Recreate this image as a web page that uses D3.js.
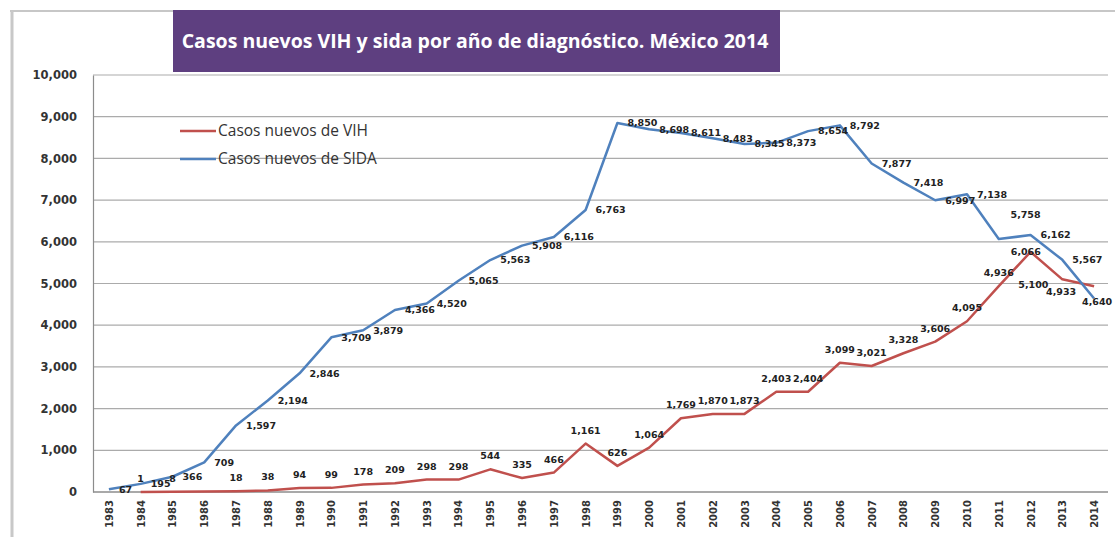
<!DOCTYPE html>
<html>
<head>
<meta charset="utf-8">
<script src="https://cdn.jsdelivr.net/npm/d3@7/dist/d3.min.js"></script>
<style>
  html, body { margin: 0; padding: 0; background: #fff; }
  svg { display: block; }
</style>
</head>
<body>
<svg id="chart" width="1115" height="537"></svg>
<script>
// ---- data ----
const title = "Casos nuevos VIH y sida por año de diagnóstico. México 2014";
const years = ["1983","1984","1985","1986","1987","1988","1989","1990","1991","1992","1993","1994","1995","1996","1997","1998","1999","2000","2001","2002","2003","2004","2005","2006","2007","2008","2009","2010","2011","2012","2013","2014"];
const vih  = [null, 1, 8, 10, 18, 38, 94, 99, 178, 209, 298, 298, 544, 335, 466, 1161, 626, 1064, 1769, 1870, 1873, 2403, 2404, 3099, 3021, 3328, 3606, 4095, 4936, 5758, 5100, 4933];
const sida = [67, 195, 366, 709, 1597, 2194, 2846, 3709, 3879, 4366, 4520, 5065, 5563, 5908, 6116, 6763, 8850, 8698, 8611, 8483, 8345, 8373, 8654, 8792, 7877, 7418, 6997, 7138, 6066, 6162, 5567, 4640];
const vihUnlabeled = ["1986"];
const yTicks = [0, 1000, 2000, 3000, 4000, 5000, 6000, 7000, 8000, 9000, 10000];
const seriesNames = ["Casos nuevos de VIH", "Casos nuevos de SIDA"];
const seriesColors = ["#c0504d", "#4f81bd"];

// label placement overrides (layout only, like manually moved labels)
const vihLabelNudge  = { "2012": [-5, -24], "2013": [-29, 19], "2014": [-33, 19] };
const sidaLabelNudge = { "2011": [2, 13], "2014": [-22, 3] };

// ---- layout ----
const svg = d3.select("#chart");
const plot = { left: 93, right: 1108, top: 75, bottom: 492 };

const x = d3.scalePoint().domain(years).range([plot.left, 1110]).padding(0.5);
const y = d3.scaleLinear().domain([0, 10000]).range([plot.bottom, plot.top]);
const fmt = d3.format(",");

// outer frame
svg.append("line").attr("x1", 10).attr("x2", 1115).attr("y1", 11).attr("y2", 11)
  .attr("stroke", "#b5b5b5").attr("stroke-width", 1.5);
svg.append("line").attr("x1", 12).attr("x2", 12).attr("y1", 11).attr("y2", 537)
  .attr("stroke", "#c8c8c8").attr("stroke-width", 3);

// gridlines
svg.append("g").selectAll("line").data(yTicks.filter(t => t > 0)).join("line")
  .attr("x1", plot.left).attr("x2", plot.right)
  .attr("y1", d => y(d)).attr("y2", d => y(d))
  .attr("stroke", "#ababab").attr("stroke-width", 1.2);

// y axis
const yAxis = svg.append("g").attr("transform", `translate(${plot.left},0)`)
  .call(d3.axisLeft(y).tickValues(yTicks).tickFormat(fmt).tickSize(0).tickPadding(16));
yAxis.select(".domain").attr("stroke", "#8c8c8c").attr("stroke-width", 1.2);
yAxis.selectAll("text")
  .attr("font-family", "DejaVu Sans, sans-serif").attr("font-size", 11.5)
  .attr("font-weight", "bold").attr("fill", "#333");

// x axis
const xAxis = svg.append("g").attr("transform", `translate(0,${plot.bottom})`)
  .call(d3.axisBottom(x).tickSize(0).tickPadding(8));
xAxis.select(".domain").attr("d", `M${plot.left},0H${plot.right}`).attr("stroke", "#8c8c8c").attr("stroke-width", 1.4);
xAxis.selectAll("text")
  .attr("font-family", "DejaVu Sans, sans-serif").attr("font-size", 10)
  .attr("font-weight", "bold").attr("fill", "#333")
  .attr("transform", "rotate(-90)")
  .attr("text-anchor", "end").attr("dy", "0.35em").attr("x", -8).attr("y", 0);

// lines
const line = d3.line().defined(d => d.v != null).x(d => x(d.year)).y(d => y(d.v));
const vihData = years.map((yr, i) => ({ year: yr, v: vih[i] }));
const sidaData = years.map((yr, i) => ({ year: yr, v: sida[i] }));

svg.append("path").datum(vihData).attr("d", line)
  .attr("fill", "none").attr("stroke", seriesColors[0]).attr("stroke-width", 2.5)
  .attr("stroke-linejoin", "round");
svg.append("path").datum(sidaData).attr("d", line)
  .attr("fill", "none").attr("stroke", seriesColors[1]).attr("stroke-width", 2.5)
  .attr("stroke-linejoin", "round");

// data labels
const labelFont = { family: "DejaVu Sans, sans-serif", size: 9.5 };
const nudge = (map, d, k) => (map[d.year] ? map[d.year][k] : 0);
svg.append("g").selectAll("text")
  .data(vihData.filter(d => d.v != null && !vihUnlabeled.includes(d.year))).join("text")
  .attr("x", d => x(d.year) + nudge(vihLabelNudge, d, 0))
  .attr("y", d => y(d.v) - 10 + nudge(vihLabelNudge, d, 1))
  .attr("text-anchor", "middle")
  .attr("font-family", labelFont.family).attr("font-size", labelFont.size)
  .attr("font-weight", "bold").attr("fill", "#222")
  .text(d => fmt(d.v));
svg.append("g").selectAll("text")
  .data(sidaData).join("text")
  .attr("x", d => x(d.year) + 10 + nudge(sidaLabelNudge, d, 0))
  .attr("y", d => y(d.v) + nudge(sidaLabelNudge, d, 1)).attr("dy", "0.35em")
  .attr("text-anchor", "start")
  .attr("font-family", labelFont.family).attr("font-size", labelFont.size)
  .attr("font-weight", "bold").attr("fill", "#222")
  .text(d => fmt(d.v));

// legend
const legend = svg.append("g").attr("transform", "translate(180,131)");
seriesNames.forEach((name, i) => {
  const g = legend.append("g").attr("transform", `translate(0,${i * 28})`);
  g.append("line").attr("x1", 0).attr("x2", 36).attr("y1", 0).attr("y2", 0)
    .attr("stroke", seriesColors[i]).attr("stroke-width", 2.5);
  g.append("text").attr("x", 38).attr("y", 0).attr("dy", "0.35em")
    .attr("font-family", "Open Sans, sans-serif").attr("font-size", 15.5)
    .attr("fill", "#333").text(name);
});

// title box
svg.append("rect").attr("x", 173).attr("y", 10).attr("width", 607).attr("height", 62)
  .attr("fill", "#5e3f80");
svg.append("text").attr("x", 475).attr("y", 48).attr("text-anchor", "middle")
  .attr("font-family", "Open Sans, sans-serif").attr("font-size", 19.5).attr("font-weight", "bold")
  .attr("fill", "#fff").text(title);
</script>
</body>
</html>
